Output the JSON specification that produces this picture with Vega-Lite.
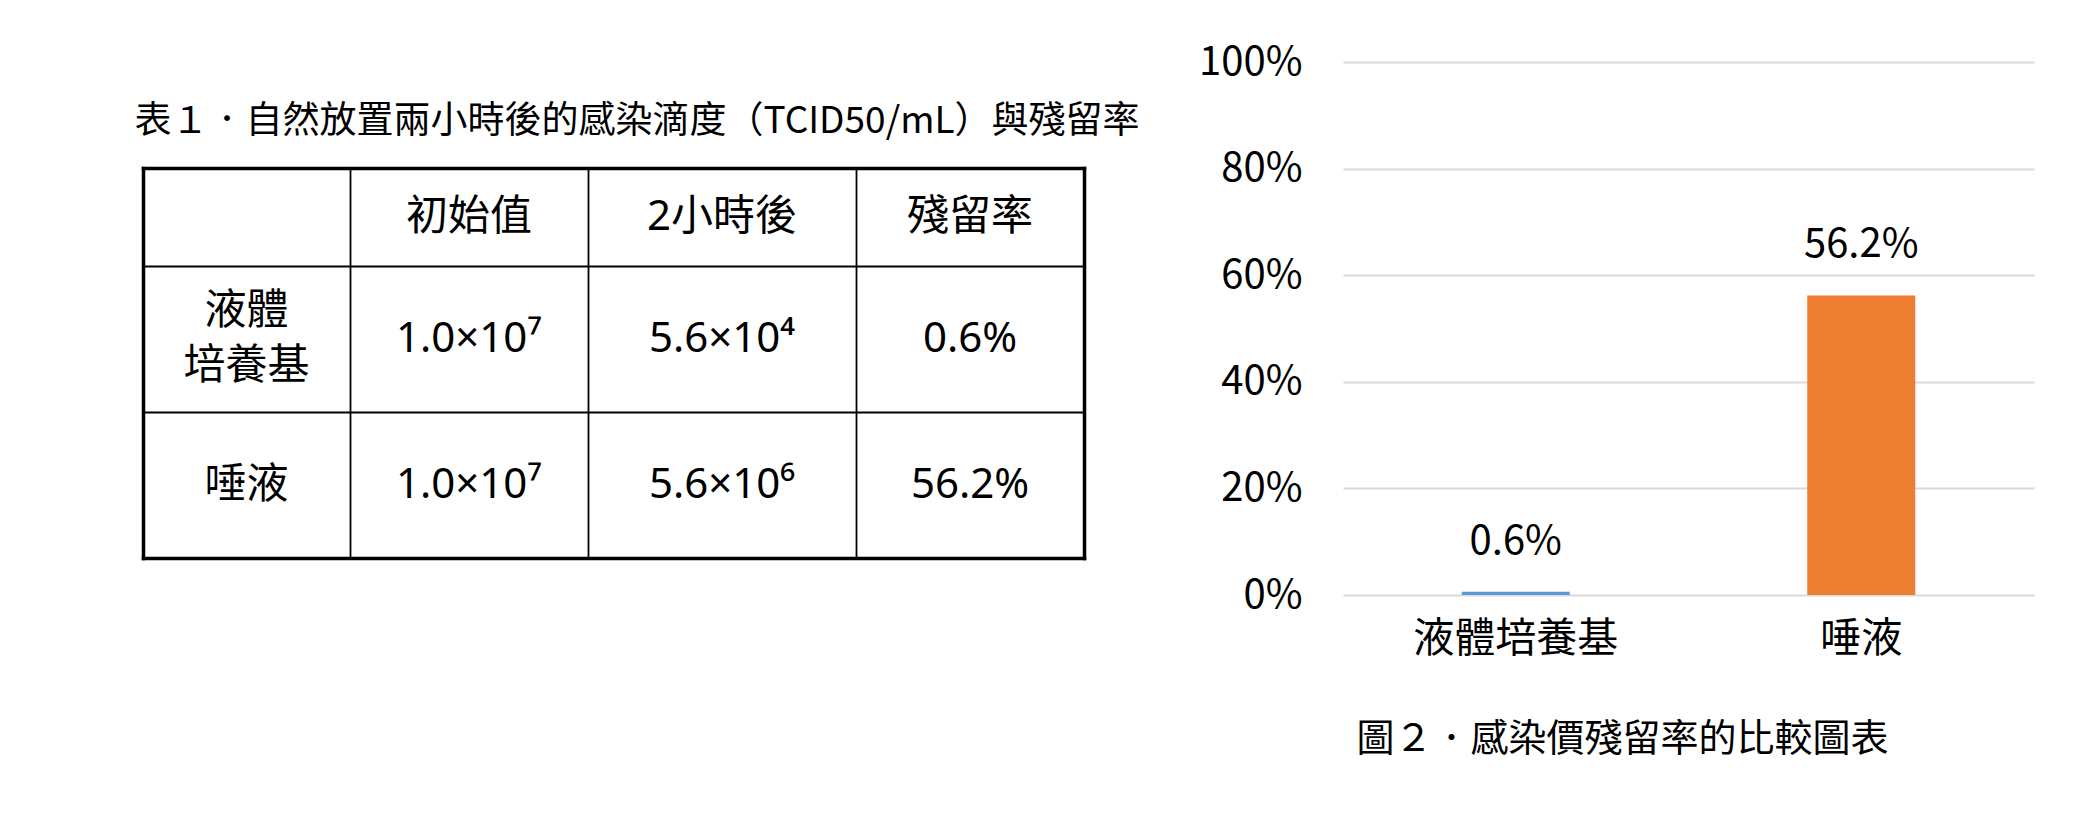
{
  "$schema": "https://vega.github.io/schema/vega-lite/v6.json",
  "width": 2086,
  "height": 833,
  "autosize": "none",
  "padding": 0,
  "background": "white",
  "config": {
    "view": {"stroke": null},
    "font": "Noto Sans CJK TC"
  },
  "resolve": {
    "scale": {"x": "independent", "y": "independent", "color": "independent"},
    "axis": {"x": "independent", "y": "independent"}
  },
  "layer": [
    {
      "data": {
        "values": [
          {"row": 0, "col": 1, "label": "初始值"},
          {"row": 0, "col": 2, "label": "2小時後"},
          {"row": 0, "col": 3, "label": "殘留率"},
          {"row": 1, "col": 0, "label": ["液體", "培養基"]},
          {"row": 1, "col": 1, "label": "1.0×10⁷"},
          {"row": 1, "col": 2, "label": "5.6×10⁴"},
          {"row": 1, "col": 3, "label": "0.6%"},
          {"row": 2, "col": 0, "label": "唾液"},
          {"row": 2, "col": 1, "label": "1.0×10⁷"},
          {"row": 2, "col": 2, "label": "5.6×10⁶"},
          {"row": 2, "col": 3, "label": "56.2%"}
        ]
      },
      "encoding": {
        "x": {
          "field": "col",
          "type": "quantitative",
          "scale": {"domain": [-0.5, 0.5, 1.5, 2.5, 3.5], "range": [143, 350, 588, 856, 1084], "zero": false, "nice": false},
          "axis": {
            "orient": "top",
            "offset": 0,
            "values": [-0.5, 0.5, 1.5, 2.5, 3.5],
            "grid": true,
            "gridColor": "black",
            "gridWidth": {"condition": {"test": "datum.value === -0.5 || datum.value === 3.5", "value": 3.5}, "value": 1.8},
            "gridCap": "square",
            "labels": false,
            "ticks": false,
            "domain": false,
            "title": "表１．自然放置兩小時後的感染滴度（TCID50/mL）與殘留率",
            "titleX": 134,
            "titleY": 121,
            "titleAlign": "left",
            "titleBaseline": "middle",
            "titleFont": "Noto Sans CJK TC",
            "titleFontSize": 37,
            "titleFontWeight": "normal",
            "titleColor": "black"
          }
        },
        "y": {
          "field": "row",
          "type": "quantitative",
          "scale": {"domain": [-0.5, 0.5, 1.5, 2.5], "range": [168, 266, 412, 558], "zero": false, "nice": false},
          "axis": {
            "orient": "left",
            "offset": 0,
            "values": [-0.5, 0.5, 1.5, 2.5],
            "grid": true,
            "gridColor": "black",
            "gridWidth": {"condition": {"test": "datum.value === -0.5 || datum.value === 2.5", "value": 3.5}, "value": 1.8},
            "gridCap": "square",
            "labels": false,
            "ticks": false,
            "domain": false,
            "title": null
          }
        },
        "text": {"field": "label"}
      },
      "layer": [
        {
          "transform": [{"filter": "!isArray(datum.label)"}],
          "mark": {
            "type": "text",
            "font": "Noto Sans, Noto Sans CJK TC",
            "fontSize": 42,
            "color": "black",
            "align": "center",
            "baseline": "middle"
          }
        },
        {
          "transform": [{"filter": "isArray(datum.label)"}],
          "mark": {
            "type": "text",
            "font": "Noto Sans CJK TC",
            "fontSize": 42,
            "color": "black",
            "align": "center",
            "baseline": "line-bottom",
            "lineHeight": 55
          }
        }
      ]
    },
    {
      "data": {
        "values": [
          {"medium": "液體培養基", "rate": 0.006},
          {"medium": "唾液", "rate": 0.562}
        ]
      },
      "encoding": {
        "x": {
          "field": "medium",
          "type": "nominal",
          "sort": null,
          "scale": {"range": [1343, 2034], "paddingInner": 0.6874, "paddingOuter": 0.3437},
          "axis": {
            "orient": "bottom",
            "offset": -238,
            "labelAngle": 0,
            "labelLimit": 0,
            "labelFont": "Noto Sans CJK JP",
            "labelFontSize": 41,
            "labelPadding": 24,
            "labelColor": "black",
            "ticks": false,
            "domain": false,
            "grid": false,
            "title": "圖２．感染價殘留率的比較圖表",
            "titleX": 1356,
            "titleY": 144,
            "titleAlign": "left",
            "titleBaseline": "middle",
            "titleFont": "Noto Sans CJK TC",
            "titleFontSize": 38,
            "titleFontWeight": "normal",
            "titleColor": "black"
          }
        },
        "y": {
          "field": "rate",
          "type": "quantitative",
          "scale": {"domain": [0, 1], "range": [595, 62], "nice": false},
          "axis": {
            "orient": "left",
            "offset": -1343,
            "values": [0, 0.2, 0.4, 0.6, 0.8, 1],
            "format": ".0%",
            "labelFont": "Noto Sans CJK JP",
            "labelFontSize": 40,
            "labelPadding": 41,
            "labelColor": "black",
            "ticks": false,
            "domain": false,
            "grid": true,
            "gridColor": "#d9d9d9",
            "gridWidth": 2,
            "title": null
          }
        }
      },
      "layer": [
        {
          "mark": {"type": "bar"},
          "encoding": {
            "color": {
              "field": "medium",
              "type": "nominal",
              "scale": {"domain": ["液體培養基", "唾液"], "range": ["#5B9BD5", "#ED7D31"]},
              "legend": null
            }
          }
        },
        {
          "mark": {
            "type": "text",
            "font": "Noto Sans CJK JP",
            "fontSize": 40,
            "color": "black",
            "align": "center",
            "baseline": "alphabetic",
            "dy": -38
          },
          "encoding": {
            "text": {"field": "rate", "type": "quantitative", "format": ".1%"}
          }
        }
      ]
    }
  ]
}
